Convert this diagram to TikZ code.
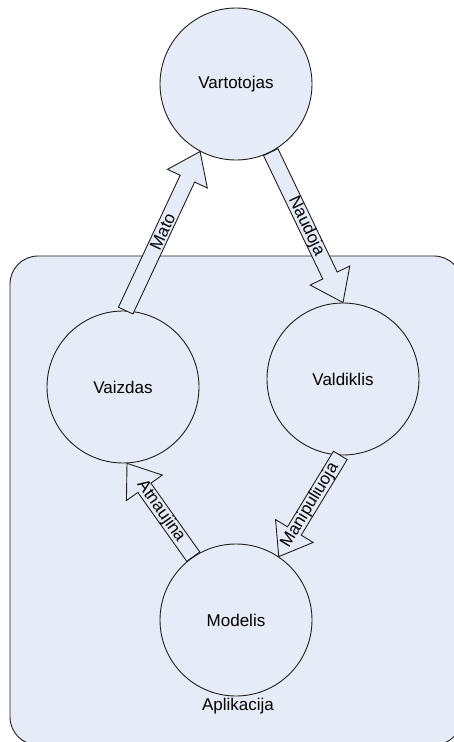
\documentclass[tikz,border=0pt]{standalone}
\usepackage{fontspec}
\setmainfont{Liberation Sans}
\usetikzlibrary{calc}

\definecolor{paleblue}{RGB}{230,236,247}
\definecolor{inkline}{RGB}{30,30,30}

\tikzset{
  txt/.style={font=\fontsize{17}{20}\selectfont, text=black},
  unit/.style={circle, draw=inkline, fill=paleblue, line width=0.9pt,
    minimum size=152pt, inner sep=0pt, txt},
  appbox/.style={draw=inkline, fill=paleblue, line width=0.9pt,
    rounded corners=28pt, minimum width=452pt, minimum height=489pt},
  arrowbody/.style={draw=inkline, fill=paleblue, line width=0.9pt, line join=miter},
  arrowlabel/.style={txt, inner sep=0pt},
}

% block arrow: start, tip, label, label position along the shaft
\newcommand\blockarrow[4]{%
  \coordinate (ba-h) at ($(#2)!30pt!(#1)$);
  \draw[arrowbody]
    ($(#1)!8pt!90:(#2)$) -- ($(ba-h)!8pt!-90:(#1)$) -- ($(ba-h)!22pt!-90:(#1)$)
    -- (#2)
    -- ($(ba-h)!22pt!90:(#1)$) -- ($(ba-h)!8pt!90:(#1)$) -- ($(#1)!8pt!-90:(#2)$) -- cycle;
  \path (#1) -- (ba-h) node[pos=#4, sloped, arrowlabel] {#3};
}

\begin{document}
\begin{tikzpicture}[x=1pt, y=-1pt]
  \useasboundingbox (0,0) rectangle (453,742);

  % application frame
  \node[appbox] (app) at (236,500.5) {};
  \node[txt] (applabel) at (238,706) {Aplikacija};

  % components
  \node[unit] (vart) at (236,84)  {Vartotojas};
  \node[unit] (vaiz) at (123,387) {Vaizdas};
  \node[unit] (vald) at (343,379) {Valdiklis};
  \node[unit] (mod)  at (236,620) {Modelis};

  % relations
  \blockarrow{vaiz.88}{vart.242}{Mato}{0.6}
  \blockarrow{vart.297}{vald.90}{Naudoja}{0.6}
  \blockarrow{mod.124}{vaiz.-87}{Atnaujina}{0.66}
  \blockarrow{vald.-92}{mod.56}{Manipuliuoja}{0.66}
\end{tikzpicture}
\end{document}
